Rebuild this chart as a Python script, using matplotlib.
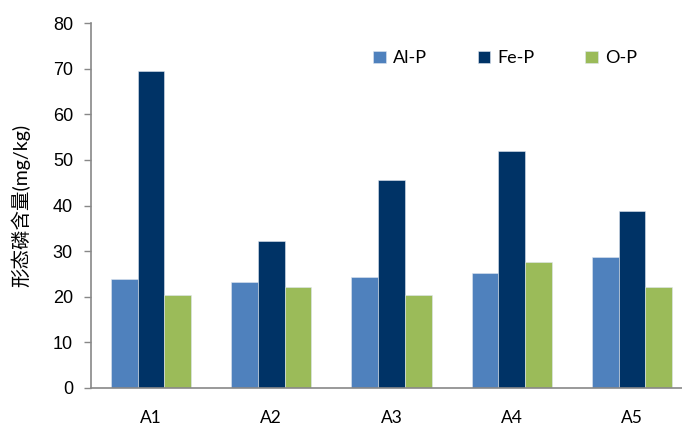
import numpy as np
import matplotlib.pyplot as plt

plt.rcParams['font.family'] = ['Lato', 'Noto Sans CJK SC', 'DejaVu Sans']

sites = ['A1', 'A2', 'A3', 'A4', 'A5']
al_p = [23.9, 23.1, 24.3, 25.2, 28.8]
fe_p = [69.5, 32.3, 45.7, 51.9, 38.9]
o_p = [20.3, 22.0, 20.3, 27.7, 22.0]

series = [('Al-P', al_p, '#4F81BD'),
          ('Fe-P', fe_p, '#003366'),
          ('O-P', o_p, '#9BBB59')]

fig = plt.figure(figsize=(6.82, 4.28), dpi=100)
ax = fig.add_axes([91 / 682, 40.3 / 428, 591 / 682, 364.4 / 428])

x = np.arange(len(sites))
w = 0.222
for i, (name, vals, col) in enumerate(series):
    ax.bar(x + (i - 1) * w, vals, w, color=col, label=name,
           edgecolor='#dfe6f0', linewidth=0.4)

ax.set_ylim(0, 80)
ax.set_yticks(range(0, 81, 10))
ax.set_xlim(-0.5, 4.5 - 10 / 120)
ax.set_xticks(x)
ax.set_xticklabels(sites, fontsize=12.5)
ax.tick_params(axis='x', length=0, pad=16)
ax.tick_params(axis='y', length=5, width=1, color='#888888', pad=8)
for lab in ax.get_yticklabels():
    lab.set_family('Liberation Sans')
    lab.set_fontsize(13)

for s in ['top', 'right']:
    ax.spines[s].set_visible(False)
for s in ['left', 'bottom']:
    ax.spines[s].set_color('#888888')
    ax.spines[s].set_linewidth(1.2)

ax.set_ylabel('形态磷含量(mg/kg)', fontsize=14, labelpad=16)

ax.legend(loc='upper left', bbox_to_anchor=(0.45, 0.97), ncol=3, frameon=False,
          fontsize=13, handlelength=0.7, handleheight=0.7, columnspacing=2.8,
          handletextpad=0.4)

fig.savefig('out.png', dpi=100)
